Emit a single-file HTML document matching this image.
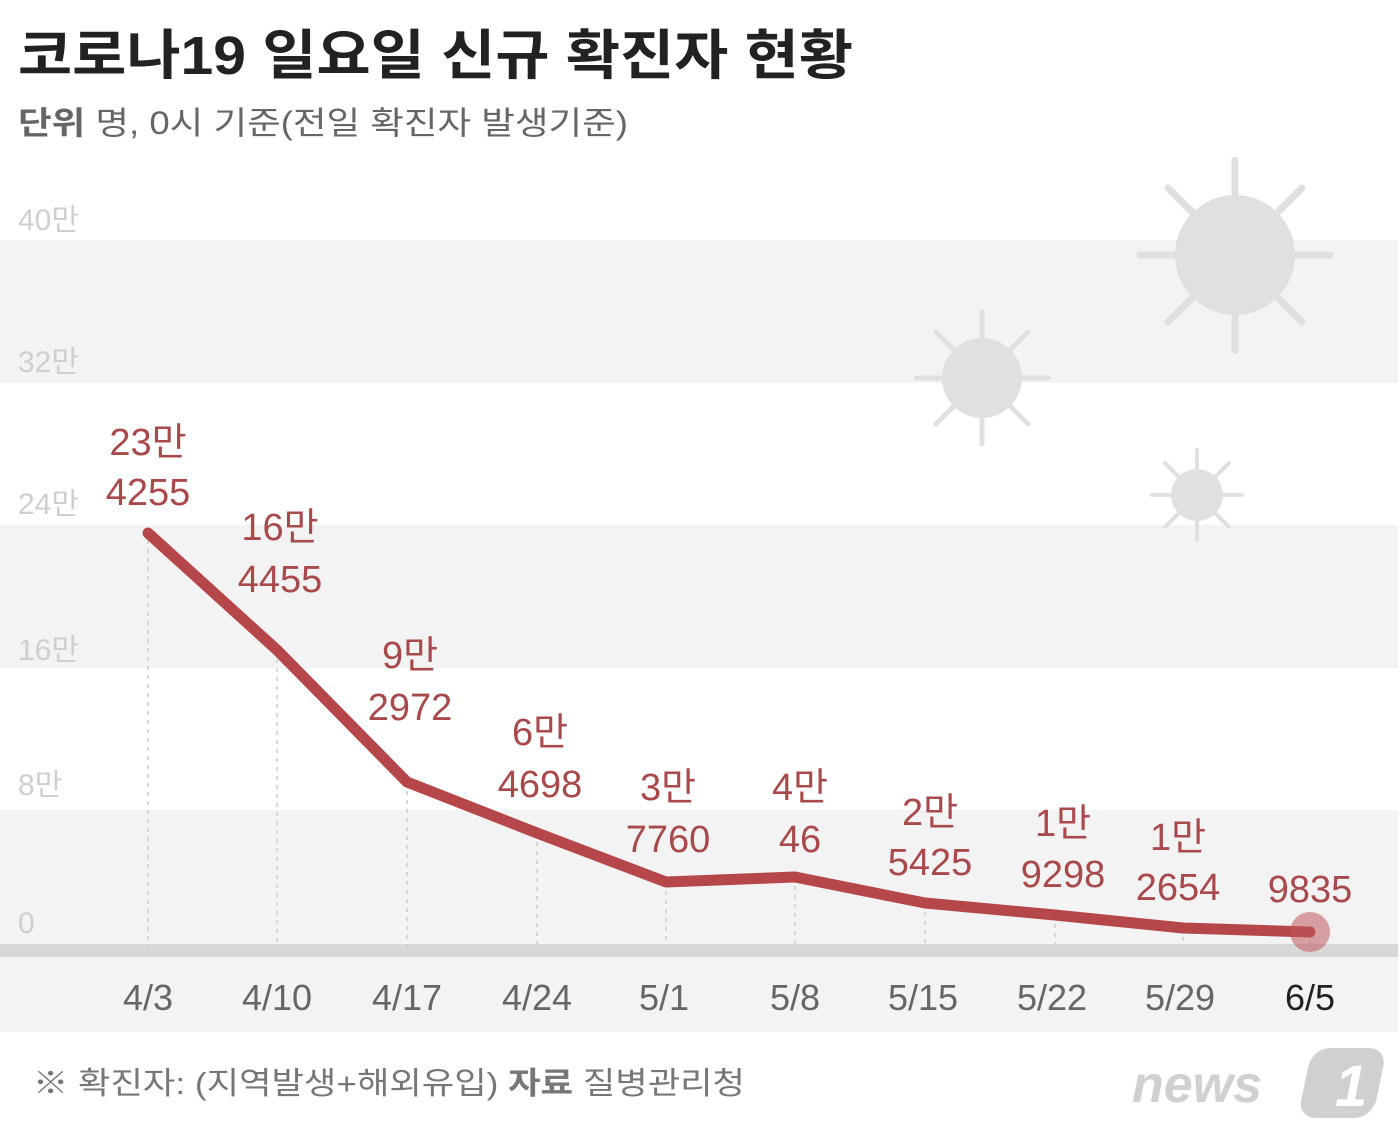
<!DOCTYPE html>
<html><head><meta charset="utf-8"><style>
body{margin:0;width:1400px;height:1138px;background:#fff;overflow:hidden}
svg text{font-family:"Liberation Sans","Noto Sans CJK KR",sans-serif}
</style></head><body>
<svg width="1400" height="1138" viewBox="0 0 1400 1138">
<rect x="0" y="240" width="1398" height="143" fill="#f3f3f3"/>
<rect x="0" y="525" width="1398" height="143" fill="#f3f3f3"/>
<rect x="0" y="810" width="1398" height="134" fill="#f3f3f3"/>
<rect x="0" y="957" width="1398" height="75" fill="#f3f3f3"/>
<rect x="0" y="944" width="1398" height="13" fill="#d8d8d8"/>
<g fill="#e0e0e0" stroke="#e0e0e0" stroke-width="7" stroke-linecap="round">
<circle cx="1235" cy="255" r="60" stroke="none"/>
<g><line x1="1235" y1="255" x2="1235" y2="160"/><line x1="1235" y1="255" x2="1330" y2="255"/><line x1="1235" y1="255" x2="1140" y2="255"/><line x1="1235" y1="255" x2="1235" y2="350"/><line x1="1235" y1="255" x2="1302" y2="188"/><line x1="1235" y1="255" x2="1168" y2="188"/><line x1="1235" y1="255" x2="1302" y2="322"/><line x1="1235" y1="255" x2="1168" y2="322"/></g>
<circle cx="982" cy="378" r="40" stroke="none"/>
<g stroke-width="5"><line x1="982" y1="378" x2="982" y2="312"/><line x1="982" y1="378" x2="1048" y2="378"/><line x1="982" y1="378" x2="916" y2="378"/><line x1="982" y1="378" x2="982" y2="444"/><line x1="982" y1="378" x2="1028" y2="332"/><line x1="982" y1="378" x2="936" y2="332"/><line x1="982" y1="378" x2="1028" y2="424"/><line x1="982" y1="378" x2="936" y2="424"/></g>
<circle cx="1197" cy="495" r="26" stroke="none"/>
<g stroke-width="4"><line x1="1197" y1="495" x2="1197" y2="450"/><line x1="1197" y1="495" x2="1242" y2="495"/><line x1="1197" y1="495" x2="1152" y2="495"/><line x1="1197" y1="495" x2="1197" y2="540"/><line x1="1197" y1="495" x2="1229" y2="463"/><line x1="1197" y1="495" x2="1165" y2="463"/><line x1="1197" y1="495" x2="1229" y2="527"/><line x1="1197" y1="495" x2="1165" y2="527"/></g>
</g>
<text x="18" y="74" font-size="54" font-weight="bold" fill="#222" textLength="835" lengthAdjust="spacingAndGlyphs">코로나19 일요일 신규 확진자 현황</text>
<text x="18" y="134" font-size="32" fill="#666" textLength="610" lengthAdjust="spacingAndGlyphs"><tspan font-weight="bold">단위</tspan>  명, 0시 기준(전일 확진자 발생기준)</text>
<g font-size="30" fill="#cfcfcf">
<text x="18" y="230">40만</text><text x="18" y="372">32만</text><text x="18" y="514">24만</text><text x="18" y="660">16만</text><text x="18" y="795">8만</text><text x="18" y="933">0</text>
</g>
<g stroke="#ccc" stroke-width="1.5" stroke-dasharray="4,5">
<line x1="148" y1="540" x2="148" y2="948"/><line x1="277" y1="650" x2="277" y2="948"/><line x1="407" y1="782" x2="407" y2="948"/><line x1="537" y1="833" x2="537" y2="948"/><line x1="666" y1="882" x2="666" y2="948"/><line x1="795" y1="877" x2="795" y2="948"/><line x1="925" y1="903" x2="925" y2="948"/><line x1="1055" y1="915" x2="1055" y2="948"/><line x1="1183" y1="928" x2="1183" y2="948"/><line x1="1310" y1="932" x2="1310" y2="948"/>
</g>
<polyline points="148,533 277,650 407,782 537,833 666,882 795,877 925,903 1055,915 1183,928 1310,932" fill="none" stroke="#b5474b" stroke-width="11" stroke-linejoin="round" stroke-linecap="round"/>
<circle cx="1310" cy="932" r="20" fill="#c0575c" opacity="0.55"/>
<g font-size="38" fill="#a84a4c" text-anchor="middle">
<text x="148" y="455">23만</text><text x="148" y="505">4255</text>
<text x="280" y="540">16만</text><text x="280" y="592">4455</text>
<text x="410" y="668">9만</text><text x="410" y="720">2972</text>
<text x="540" y="745">6만</text><text x="540" y="797">4698</text>
<text x="668" y="800">3만</text><text x="668" y="852">7760</text>
<text x="800" y="800">4만</text><text x="800" y="852">46</text>
<text x="930" y="825">2만</text><text x="930" y="875">5425</text>
<text x="1063" y="836">1만</text><text x="1063" y="887">9298</text>
<text x="1178" y="850">1만</text><text x="1178" y="900">2654</text>
<text x="1310" y="902">9835</text>
</g>
<g font-size="36" fill="#666" text-anchor="middle">
<text x="148" y="1010">4/3</text><text x="277" y="1010">4/10</text><text x="407" y="1010">4/17</text><text x="537" y="1010">4/24</text><text x="664" y="1010">5/1</text><text x="795" y="1010">5/8</text><text x="923" y="1010">5/15</text><text x="1052" y="1010">5/22</text><text x="1180" y="1010">5/29</text><text x="1310" y="1010" fill="#222">6/5</text>
</g>
<text x="33" y="1094" font-size="31" fill="#777" textLength="712" lengthAdjust="spacingAndGlyphs">※ 확진자: (지역발생+해외유입)  <tspan font-weight="bold">자료</tspan>  질병관리청</text>
<text x="1132" y="1102" font-size="52" font-weight="bold" font-style="italic" fill="#d0d0d0">news</text>
<rect x="1305" y="1048" width="75" height="70" rx="18" fill="#d0d0d0" transform="skewX(-12) translate(230,0)"/>
<text x="1335" y="1106" font-size="58" font-weight="bold" font-style="italic" fill="#fff">1</text>
</svg>
</body></html>
